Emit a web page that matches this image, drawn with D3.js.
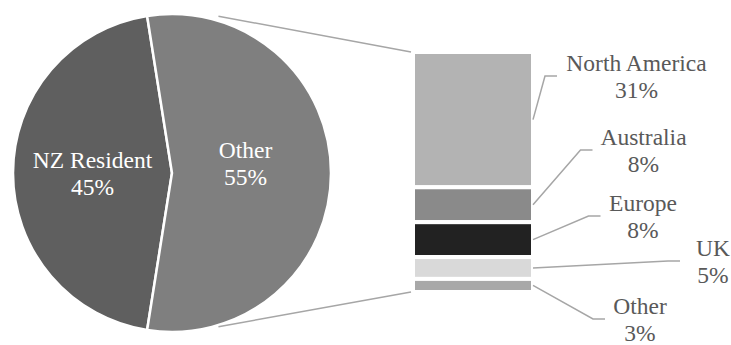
<!DOCTYPE html>
<html>
<head>
<meta charset="utf-8">
<script src="https://cdn.jsdelivr.net/npm/d3@7"></script>
<style>
  html, body { margin: 0; padding: 0; background: #fff; }
  svg { display: block; }
</style>
</head>
<body>
<svg id="chart" width="731" height="345"></svg>
<script>
// Visitor origin: main pie
const pieCategories = ["NZ Resident", "Other"];
const pieValues = [45, 55];

// Breakdown of "Other" shown in the stacked bar
const barCategories = ["North America", "Australia", "Europe", "UK", "Other"];
const barValues = [31, 8, 8, 5, 3];

const pieColors = ["#5f5f5f", "#7f7f7f"];
const barColors = ["#b3b3b3", "#8a8a8a", "#222222", "#d9d9d9", "#a8a8a8"];

const fontFamily = "'Liberation Serif', Tinos, 'Times New Roman', Times, 'DejaVu Serif', serif";
const fontSize = "23.5px";

const svg = d3.select("#chart");
const textColor = "#595959";
const lineColor = "#a6a6a6";

// ---- Pie ----
const cx = 172, cy = 173, radius = 159;
const otherShare = pieValues[1] / d3.sum(pieValues);
// rotate so the "Other" slice faces the bar on the right
const start = Math.PI / 2 + Math.PI * otherShare;
const pie = d3.pie().sort(null).value(d => d).startAngle(start).endAngle(start + 2 * Math.PI);
const arcs = pie(pieValues);
const arc = d3.arc().innerRadius(0).outerRadius(radius);
const labelArc = d3.arc().innerRadius(radius * 0.5).outerRadius(radius * 0.5);

const gPie = svg.append("g").attr("transform", `translate(${cx},${cy})`);
gPie.selectAll("path").data(arcs).join("path")
  .attr("d", arc)
  .attr("fill", (d, i) => pieColors[i])
  .attr("stroke", "#fff")
  .attr("stroke-width", 2.5)
  .attr("stroke-linejoin", "miter");

const pieLabelShift = [[0, 0], [-6, -10]];
arcs.forEach((a, i) => {
  const [x, y] = labelArc.centroid(a);
  const px = x + pieLabelShift[i][0], py = y + pieLabelShift[i][1];
  const t = gPie.append("text")
    .attr("text-anchor", "middle")
    .attr("fill", "#fff")
    .attr("font-family", fontFamily)
    .attr("font-size", fontSize);
  t.append("tspan").attr("x", px).attr("y", py - 5).text(pieCategories[i]);
  t.append("tspan").attr("x", px).attr("y", py + 22).text(pieValues[i] + "%");
});

// ---- Stacked bar ----
const barTotal = d3.sum(barValues);
const y = d3.scaleLinear().domain([0, barTotal]).range([52, 292]);
const xBar = d3.scaleLinear().domain([0, 1]).range([413, 533]);
const cum = d3.cumsum(barValues);
const segs = barValues.map((v, i) => ({ name: barCategories[i], value: v, y0: cum[i] - v, y1: cum[i] }));

svg.append("g").selectAll("rect").data(segs).join("rect")
  .attr("x", xBar(0))
  .attr("width", xBar(1) - xBar(0))
  .attr("y", d => y(d.y0))
  .attr("height", d => y(d.y1) - y(d.y0))
  .attr("fill", (d, i) => barColors[i])
  .attr("stroke", "#fff")
  .attr("stroke-width", 4);

// ---- Connector lines from pie to bar ----
const connAngle = 16.5 * Math.PI / 180;
const connR = radius + 4.5;
const pTop = [cx + connR * Math.sin(connAngle), cy - connR * Math.cos(connAngle)];
const pBot = [cx + connR * Math.sin(connAngle), cy + connR * Math.cos(connAngle) - 3];
svg.append("line").attr("x1", pTop[0]).attr("y1", pTop[1]).attr("x2", xBar(0) - 2).attr("y2", y(0))
  .attr("stroke", lineColor).attr("stroke-width", 1.5);
svg.append("line").attr("x1", pBot[0]).attr("y1", pBot[1]).attr("x2", xBar(0) - 2).attr("y2", y(barTotal))
  .attr("stroke", lineColor).attr("stroke-width", 1.5);

// ---- Bar labels with leader lines ----
// label placement: text centre x, box middle y, box left edge
const barLabelLayout = [
  { x: 636.5, y: 76, left: 557 },
  { x: 643.5, y: 150, left: 592.5 },
  { x: 643, y: 216, left: 600.5 },
  { x: 713, y: 261, left: 680 },
  { x: 640, y: 319, left: 605 }
];

segs.forEach((s, i) => {
  const L = barLabelLayout[i];
  const ax = xBar(1), ay = (y(s.y0) + y(s.y1)) / 2;
  const pts = [[ax, ay], [L.left - 12, L.y], [L.left, L.y]];
  svg.append("path")
    .attr("d", d3.line()(pts))
    .attr("fill", "none")
    .attr("stroke", lineColor)
    .attr("stroke-width", 1.5);
  const t = svg.append("text")
    .attr("text-anchor", "middle")
    .attr("fill", textColor)
    .attr("font-family", fontFamily)
    .attr("font-size", fontSize);
  t.append("tspan").attr("x", L.x).attr("y", L.y - 5).text(s.name);
  t.append("tspan").attr("x", L.x).attr("y", L.y + 22).text(s.value + "%");
});
</script>
</body>
</html>
